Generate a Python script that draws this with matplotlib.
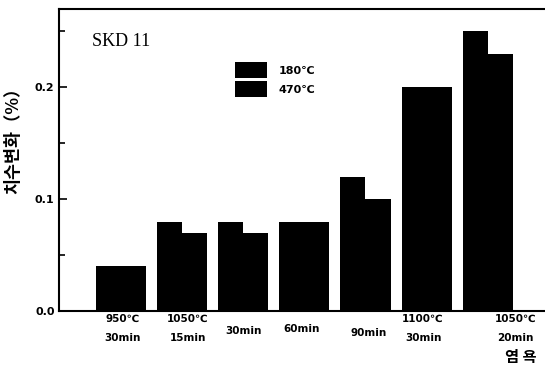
import numpy as np
import matplotlib.pyplot as plt

# dimensional change (%) per heat treatment, tempered at two temperatures
conditions = ["950℃\n30min", "1050℃\n15min", "30min", "60min", "90min",
              "1100℃\n30min", "1050℃\n20min"]
temper_180 = [0.04, 0.08, 0.08, 0.08, 0.12, 0.20, 0.25]
temper_470 = [0.04, 0.07, 0.07, 0.08, 0.10, 0.20, 0.23]

# label placement tweaks (x offset in groups, y offset in px)
label_dx = [0.03, 0.1, 0.0, -0.05, 0.05, -0.06, 0.45]
label_y = [-3, -3, -15, -13, -17, -3, -3]

plt.rcParams['font.family'] = ['DejaVu Sans', 'Noto Sans CJK KR']

fig = plt.figure(figsize=(5.45, 3.69), dpi=100)
ax = fig.add_axes([0.109, 0.157, 0.893, 0.819])

x = np.arange(len(conditions))
w = 0.41
ax.bar(x - w / 2, temper_180, w, color='black', label='180℃')
ax.bar(x + w / 2, temper_470, w, color='black', label='470℃')

ax.set_xlim(-1.0, 6.95)
ax.set_ylim(0, 0.27)
ax.set_xticks([])
ax.set_yticks([0.0, 0.1, 0.2])
ax.set_yticks([0.05, 0.15, 0.25], minor=True)
ax.set_yticklabels(['0.0', '0.1', '0.2'], fontsize=8, fontweight='bold')
ax.tick_params(axis='y', which='both', direction='in', width=1.2)
ax.tick_params(axis='y', which='major', length=6)
ax.tick_params(axis='y', which='minor', length=4)
for s in ax.spines.values():
    s.set_linewidth(1.5)

for i, lab in enumerate(conditions):
    ax.annotate(lab, xy=(x[i] + label_dx[i], 0), xycoords='data',
                xytext=(0, label_y[i]), textcoords='offset pixels',
                ha='center', va='top', fontsize=7.5, fontweight='bold',
                linespacing=2.1, annotation_clip=False)

fig.text(0.956, 0.033, '염 욕', ha='center', va='center',
         fontsize=11, fontweight='bold', family='Noto Sans CJK KR')
fig.text(0.024, 0.63, '치수변화（%）', rotation=90, ha='center', va='center',
         fontsize=12.5, fontweight='bold', family='Noto Sans CJK KR')

ax.text(0.068, 0.893, 'SKD 11', transform=ax.transAxes, fontsize=13,
        family='Liberation Serif', va='center')

ax.legend(loc='upper left', bbox_to_anchor=(0.34, 0.857), frameon=False,
          handlelength=2.9, handleheight=1.8, labelspacing=0.3,
          handletextpad=1.0, prop={'weight': 'bold', 'size': 8})

fig.savefig('out.png', dpi=100)
